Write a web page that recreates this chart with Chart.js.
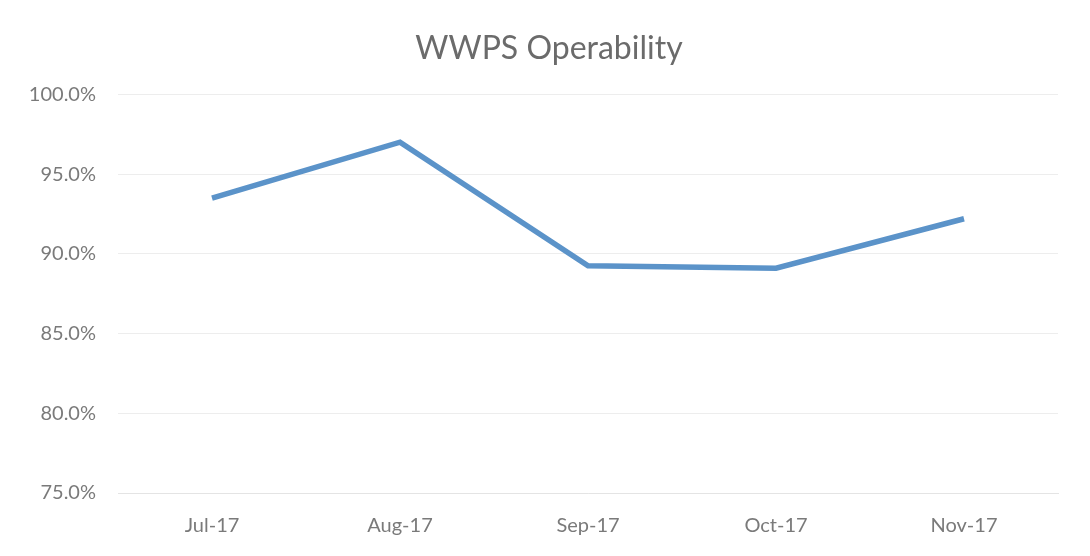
<!DOCTYPE html>
<html>
<head>
<meta charset="utf-8">
<script src="https://cdn.jsdelivr.net/npm/chart.js@4"></script>
<style>
  html, body { margin: 0; padding: 0; background: #fff; }
  #wrap { width: 1090px; height: 556px; }
</style>
</head>
<body>
<div id="wrap"><canvas id="opChart"></canvas></div>
<script>
const months = ["Jul-17", "Aug-17", "Sep-17", "Oct-17", "Nov-17"];
const operability = [93.5, 97.0, 89.25, 89.1, 92.2];
const yMin = 75;
const yMax = 100;
const yStep = 5;

const fontFamily = "Lato, 'Open Sans', sans-serif";

new Chart(document.getElementById("opChart"), {
  type: "line",
  data: {
    labels: months,
    datasets: [{
      label: "Operability",
      data: operability,
      borderColor: "#5b93c9",
      borderWidth: 5.5,
      pointRadius: 0,
      tension: 0,
      fill: false,
    }],
  },
  options: {
    responsive: true,
    maintainAspectRatio: false,
    animation: false,
    layout: { padding: { left: 20, right: 12, top: 0, bottom: 0 } },
    plugins: {
      legend: { display: false },
      tooltip: { enabled: false },
      title: {
        display: true,
        text: "WWPS Operability",
        color: "#6b6b6b",
        font: { family: fontFamily, size: 32, weight: "normal" },
        padding: { top: 29, bottom: 27 },
      },
    },
    scales: {
      x: {
        offset: true,
        grid: { display: false, drawTicks: false },
        border: { color: "#e4e4e4", width: 1 },
        ticks: {
          color: "#7a7a7a",
          font: { family: fontFamily, size: 20 },
          padding: 21,
        },
        afterFit: (scale) => { scale.height = 63; },
      },
      y: {
        min: yMin,
        max: yMax,
        grid: { color: "#ededed", drawTicks: false },
        border: { display: false },
        ticks: {
          stepSize: yStep,
          color: "#7a7a7a",
          font: { family: fontFamily, size: 20 },
          padding: 22,
          callback: (v) => v.toFixed(1) + "%",
        },
        afterFit: (scale) => { scale.width = 98; },
      },
      yRight: {
        position: "right",
        display: true,
        grid: { display: false, drawTicks: false },
        border: { display: false },
        ticks: { display: false },
        afterFit: (scale) => { scale.width = 20; },
      },
    },
  },
});
</script>
</body>
</html>
